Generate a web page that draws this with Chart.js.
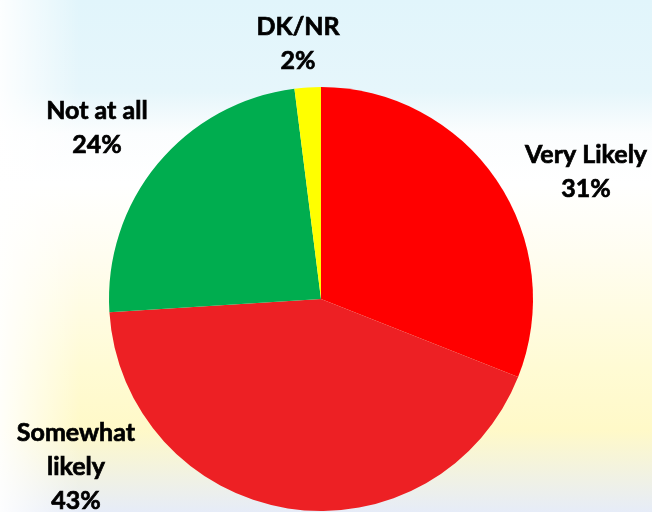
<!DOCTYPE html>
<html>
<head>
<meta charset="utf-8">
<script src="https://cdn.jsdelivr.net/npm/chart.js@4"></script>
<style>
  html, body { margin: 0; padding: 0; }
  body {
    width: 652px; height: 512px; overflow: hidden;
    background:
      linear-gradient(90deg, rgba(255,255,255,0.9) 0px, rgba(255,255,255,0) 80px),
      linear-gradient(180deg, #e1f5fb 0%, #e6f6fb 18%, #fbfdfe 26%, #ffffff 36%, #fffdf0 50%, #fffbd4 72%, #fff9c8 84%, #e6ecf8 100%);
  }
  #wrap { position: relative; width: 652px; height: 512px; }
</style>
</head>
<body>
<div id="wrap"><canvas id="pieChart" width="652" height="512"></canvas></div>
<script>
const categories = ['Very Likely', 'Somewhat likely', 'Not at all', 'DK/NR'];
const shares = [31, 43, 24, 2];
const sliceColors = ['#FF0000', '#ED2024', '#00AD4F', '#FFFF00'];

// label lines and where they sit, in units of the pie radius from its centre
const labelLines = [['Very Likely', '31%'], ['Somewhat', 'likely', '43%'], ['Not at all', '24%'], ['DK/NR', '2%']];
const labelAnchor = [[1.25, -0.60], [-1.156, 0.79], [-1.057, -0.807], [-0.108, -1.203]];

const outsideLabels = {
    id: 'outsideLabels',
    afterDatasetsDraw(chart) {
        const ctx = chart.ctx;
        const arcs = chart.getDatasetMeta(0).data;
        ctx.save();
        ctx.font = 'bold 25px Lato';
        ctx.fillStyle = '#000000';
        ctx.strokeStyle = '#000000';
        ctx.lineWidth = 0.7;
        ctx.textAlign = 'center';
        ctx.textBaseline = 'middle';
        arcs.forEach((arc, i) => {
            const r = arc.outerRadius;
            const cx = arc.x + labelAnchor[i][0] * r;
            const cy = arc.y + labelAnchor[i][1] * r;
            const lines = labelLines[i];
            const lh = 34;
            lines.forEach((t, k) => {
                const y = cy + (k - (lines.length - 1) / 2) * lh;
                ctx.fillText(t, cx, y);
                ctx.strokeText(t, cx, y);
            });
        });
        ctx.restore();
    }
};

const ctx = document.getElementById('pieChart').getContext('2d');
window.pieChartInstance = new Chart(ctx, {
    type: 'pie',
    data: {
        labels: categories,
        datasets: [{
            data: shares,
            backgroundColor: sliceColors,
            borderWidth: 0
        }]
    },
    options: {
        responsive: false,
        animation: false,
        layout: { padding: { left: 109, right: 119, top: 87, bottom: 1 } },
        plugins: {
            legend: { display: false },
            tooltip: { enabled: false }
        }
    },
    plugins: [outsideLabels]
});
</script>
</body>
</html>
